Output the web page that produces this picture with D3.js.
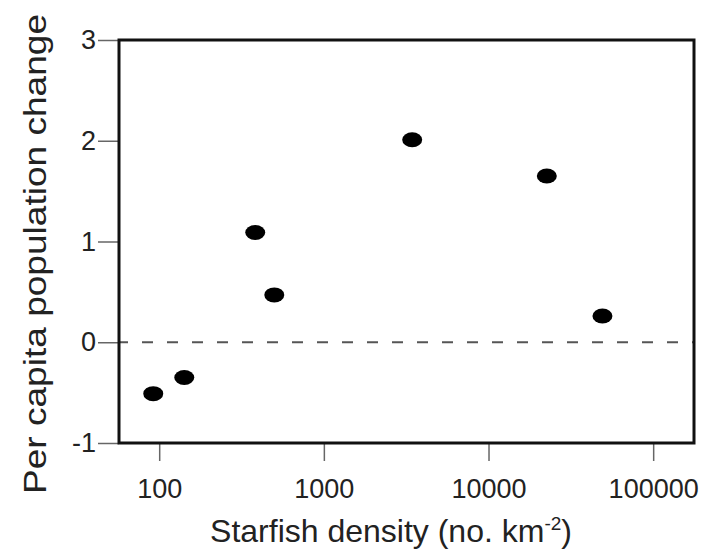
<!DOCTYPE html>
<html>
<head>
<meta charset="utf-8">
<script src="https://cdn.jsdelivr.net/npm/d3@7/dist/d3.min.js"></script>
<style>
  body { margin: 0; background: #fff; }
  text { font-family: "Liberation Sans", Arial, Helvetica, sans-serif; fill: #222; }
</style>
</head>
<body>
<div id="chart"></div>
<script>
// starfish density (no. km-2) and per capita population change
var densities = [92, 142, 383, 500, 3440, 22600, 49200];
var changes = [-0.51, -0.35, 1.09, 0.47, 2.01, 1.65, 0.26];
var xTicks = [100, 1000, 10000, 100000];
var yTicks = [-1, 0, 1, 2, 3];

var margin = {top: 40, right: 11, bottom: 111, left: 119},
    width = 705 - margin.left - margin.right,
    height = 554 - margin.top - margin.bottom;

var svg = d3.select("#chart").append("svg")
    .attr("width", 705)
    .attr("height", 554);

var g = svg.append("g")
    .attr("transform", "translate(" + margin.left + "," + margin.top + ")");

var x = d3.scaleLog()
    .domain([57, 177000])
    .range([0, width]);

var y = d3.scaleLinear()
    .domain([-1, 3])
    .range([height, 0]);

//x axis
var xAxis = d3.axisBottom(x)
    .tickValues(xTicks)
    .tickFormat(function(d){ return String(d); })
    .tickSize(18)
    .tickPadding(18);

var xg = g.append("g")
    .attr("transform", "translate(0," + height + ")")
    .call(xAxis);
xg.select(".domain").remove();
xg.selectAll("line").attr("stroke", "#666").attr("stroke-width", 1.5);
xg.selectAll("text")
    .style("font-size", "27px")
    .style("font-family", "'Liberation Sans', Arial, sans-serif")
    .attr("fill", "#222");

//y axis (plain hyphen for the minus sign, as in the original)
var yAxis = d3.axisLeft(y)
    .tickValues(yTicks)
    .tickFormat(function(d){ return String(d); })
    .tickSize(21)
    .tickPadding(2);

var yg = g.append("g").call(yAxis);
yg.select(".domain").remove();
yg.selectAll("line").attr("stroke", "#666").attr("stroke-width", 1.5);
yg.selectAll("text")
    .style("font-size", "27px")
    .style("font-family", "'Liberation Sans', Arial, sans-serif")
    .attr("fill", "#222");

//zero line
g.append("line")
    .attr("x1", 0)
    .attr("x2", width)
    .attr("y1", y(0))
    .attr("y2", y(0))
    .attr("stroke", "#555")
    .attr("stroke-width", 2)
    .attr("stroke-dasharray", "11,14")
    .attr("stroke-dashoffset", 2);

//frame
g.append("rect")
    .attr("x", 0)
    .attr("y", 0)
    .attr("width", width)
    .attr("height", height)
    .attr("fill", "none")
    .attr("stroke", "#111")
    .attr("stroke-width", 3);

//points
g.selectAll("ellipse")
    .data(densities)
    .enter().append("ellipse")
    .attr("cx", function(d){ return x(d); })
    .attr("cy", function(d, i){ return y(changes[i]); })
    .attr("rx", 10)
    .attr("ry", 7.5)
    .attr("fill", "#000");

//axis titles
var xTitle = svg.append("text")
    .attr("x", 391)
    .attr("y", 542)
    .style("text-anchor", "middle")
    .style("font-size", "32px");
xTitle.append("tspan").text("Starfish density (no. km");
xTitle.append("tspan").attr("dy", -12).style("font-size", "19px").text("-2");
xTitle.append("tspan").attr("dy", 12).text(")");

svg.append("text")
    .attr("transform", "translate(46,254) rotate(-90)")
    .style("text-anchor", "middle")
    .style("font-size", "31px")
    .attr("textLength", 480)
    .attr("lengthAdjust", "spacingAndGlyphs")
    .text("Per capita population change");
</script>
</body>
</html>
